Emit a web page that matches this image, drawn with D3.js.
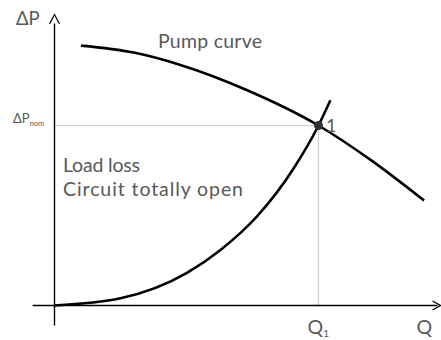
<!DOCTYPE html>
<html>
<head>
<meta charset="utf-8">
<script src="https://cdn.jsdelivr.net/npm/d3@7/dist/d3.min.js"></script>
<style>
  html, body { margin: 0; padding: 0; background: #fff; }
  svg { display: block; }
  text { font-family: Lato, "Open Sans", sans-serif; fill: #595959; }
</style>
</head>
<body>
<svg id="chart" width="441" height="340"></svg>
<script>
// Flow Q is expressed relative to Q1, head ΔP relative to ΔPnom.
const pumpQ  = [0.10, 0.30, 0.48, 0.73, 1.00, 1.20, 1.40];
const pumpDP = [1.444, 1.405, 1.335, 1.196, 1.00, 0.806, 0.583];

const lossQ  = [0.00, 0.25, 0.50, 0.63, 0.77, 0.905, 1.00, 1.045];
const lossDP = [0.00, 0.04, 0.18, 0.31, 0.50, 0.76, 1.00, 1.14];

// Operating point 1: intersection of both curves
const opQ = [1.0];
const opDP = [1.0];

// Extent of the drawn axes (in the same relative units)
const qAxisExtent = [-0.083, 1.462];
const dpAxisExtent = [-0.111, 1.617];

const svg = d3.select("#chart");

const x = d3.scaleLinear().domain([0, 1]).range([54.5, 318.5]);
const y = d3.scaleLinear().domain([0, 1]).range([305.5, 125.5]);

// Guide lines to the operating point
svg.append("line")
  .attr("x1", x(0)).attr("x2", x(opQ[0]))
  .attr("y1", y(opDP[0])).attr("y2", y(opDP[0]))
  .attr("stroke", "#cfcfcf").attr("stroke-width", 1.2);
svg.append("line")
  .attr("x1", x(opQ[0])).attr("x2", x(opQ[0]))
  .attr("y1", y(opDP[0])).attr("y2", y(0))
  .attr("stroke", "#cfcfcf").attr("stroke-width", 1.2);

// Axes
svg.append("line")
  .attr("x1", x(qAxisExtent[0])).attr("x2", x(qAxisExtent[1]) - 3)
  .attr("y1", y(0)).attr("y2", y(0))
  .attr("stroke", "#000").attr("stroke-width", 1.4);
svg.append("line")
  .attr("x1", x(0)).attr("x2", x(0))
  .attr("y1", y(dpAxisExtent[0])).attr("y2", y(dpAxisExtent[1]) + 9)
  .attr("stroke", "#000").attr("stroke-width", 1.4);

// Open arrowheads
const xt = x(qAxisExtent[1]), yt = y(0);
svg.append("path")
  .attr("d", `M${xt - 8},${yt - 4.5}L${xt},${yt}L${xt - 8},${yt + 4.5}`)
  .attr("fill", "none").attr("stroke", "#000").attr("stroke-width", 1.2);
const ax = x(0), ay = y(dpAxisExtent[1]);
svg.append("path")
  .attr("d", `M${ax - 5},${ay + 9.5}L${ax},${ay}L${ax + 5},${ay + 9.5}`)
  .attr("fill", "none").attr("stroke", "#000").attr("stroke-width", 1.2);

// Curves
const line = d3.line()
  .x(d => x(d[0]))
  .y(d => y(d[1]))
  .curve(d3.curveMonotoneX);

svg.append("path")
  .datum(pumpQ.map((q, i) => [q, pumpDP[i]]))
  .attr("d", line)
  .attr("fill", "none").attr("stroke", "#000").attr("stroke-width", 2.6);

svg.append("path")
  .datum(lossQ.map((q, i) => [q, lossDP[i]]))
  .attr("d", line)
  .attr("fill", "none").attr("stroke", "#000").attr("stroke-width", 2.6);

// Operating point marker
svg.append("circle")
  .attr("cx", x(opQ[0])).attr("cy", y(opDP[0])).attr("r", 4.5)
  .attr("fill", "#333");

// Labels
svg.append("text").attr("x", 326).attr("y", 131.5)
  .attr("font-size", 18).text("1");

svg.append("text").attr("x", 158).attr("y", 48)
  .attr("font-size", 19.5)
  .attr("textLength", 104).attr("lengthAdjust", "spacing")
  .text("Pump curve");

svg.append("text").attr("x", 63).attr("y", 172)
  .attr("font-size", 19.5)
  .attr("textLength", 77).attr("lengthAdjust", "spacing")
  .text("Load loss");
svg.append("text").attr("x", 63).attr("y", 196)
  .attr("font-size", 19.5)
  .attr("textLength", 180).attr("lengthAdjust", "spacing")
  .text("Circuit totally open");

// Axis titles
svg.append("text").attr("x", 16).attr("y", 24.5)
  .attr("font-size", 18.5).text("ΔP");

const nom = svg.append("text").attr("x", 13).attr("y", 123).attr("font-size", 13);
nom.append("tspan").text("ΔP");
nom.append("tspan").attr("font-size", 7.5).attr("dy", 3).text("nom");

svg.append("text").attr("x", 416.5).attr("y", 334)
  .attr("font-size", 19.5).text("Q");

const q1 = svg.append("text").attr("x", 307.5).attr("y", 334).attr("font-size", 19.5);
q1.append("tspan").text("Q");
q1.append("tspan").attr("font-size", 10).attr("dy", 3).text("1");
</script>
</body>
</html>
